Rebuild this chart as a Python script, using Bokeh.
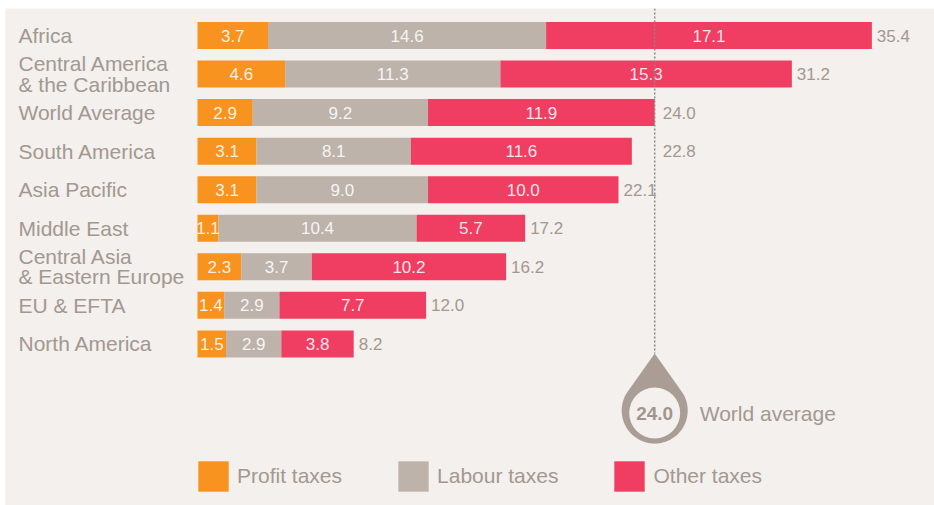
import numpy as np
from bokeh.plotting import figure
from bokeh.models import Range1d, ColumnDataSource, Legend, LegendItem
from bokeh.core.properties import value
from bokeh.embed import file_html
from bokeh.resources import INLINE

# ---- data ----
categories = ["Africa", "Central America\n& the Caribbean", "World Average",
              "South America", "Asia Pacific", "Middle East",
              "Central Asia\n& Eastern Europe", "EU & EFTA", "North America"]
profit = [3.7, 4.6, 2.9, 3.1, 3.1, 1.1, 2.3, 1.4, 1.5]
labour = [14.6, 11.3, 9.2, 8.1, 9.0, 10.4, 3.7, 2.9, 2.9]
other = [17.1, 15.3, 11.9, 11.6, 10.0, 5.7, 10.2, 7.7, 3.8]
totals = [35.4, 31.2, 24.0, 22.8, 22.1, 17.2, 16.2, 12.0, 8.2]
world_average = 24.0
series_names = ["Profit taxes", "Labour taxes", "Other taxes"]

# ---- style ----
BG = "#f3f0ed"
COLORS = ["#f7931e", "#bdb3ab", "#f03e62"]
TEXT = "#a39890"
DROP = "#a99d95"
FONT = "Liberation Sans"

PW, PH = 934, 505   # page size of the figure
BL, BT = 5, 8       # white border left / top
W, H = PW - BL, PH - BT   # frame size
XS = 19.05          # px per unit
X0 = 192            # frame px of value 0
YS = 38.55          # px per row
Y0 = 27             # frame px of first row centre

p = figure(width=PW, height=PH, output_backend="svg", toolbar_location=None,
           x_axis_type=None, y_axis_type=None,
           min_border_left=BL, min_border_top=BT, min_border_right=0, min_border_bottom=0,
           x_range=Range1d(-X0 / XS, (W - X0) / XS),
           y_range=Range1d((H - Y0) / YS, -Y0 / YS),
           background_fill_color=BG, border_fill_color="white", outline_line_color=None)
p.xgrid.visible = False
p.ygrid.visible = False

rows = list(range(len(categories)))
src = ColumnDataSource(dict(y=rows, profit=profit, labour=labour, other=other))
bars = p.hbar_stack(["profit", "labour", "other"], y="y", height=0.70,
                    color=COLORS, line_color=None, source=src)

# segment value labels
pa = np.array(profit); la = np.array(labour); oa = np.array(other)
cx = np.concatenate([pa / 2, pa + la / 2, pa + la + oa / 2])
cy = rows * 3
ct = ["%.1f" % v for v in list(profit) + list(labour) + list(other)]
p.text(x=cx, y=cy, text=ct, text_align="center", text_baseline="middle",
       text_font=value(FONT), text_font_size="17px", text_color="white", text_alpha=0.88)

# totals
tx, toff = [], []
for t in totals:
    if world_average - 1.5 < t <= world_average:
        tx.append(world_average); toff.append(8)
    else:
        tx.append(t); toff.append(5)
tsrc = ColumnDataSource(dict(x=tx, y=rows, text=["%.1f" % t for t in totals], off=toff))
p.text(x="x", y="y", text="text", x_offset="off", source=tsrc, text_align="left",
       text_baseline="middle", text_font=value(FONT), text_font_size="17px", text_color=TEXT)

# category labels
p.text(x=[-(X0 - 13) / XS] * len(categories), y=rows, text=categories,
       text_align="left", text_baseline="middle", text_font=value(FONT),
       text_font_size="21px", text_color=TEXT, text_line_height=0.88)

# world average marker (droplet)
drop_row = (402 - Y0) / YS
R_OUT, D_TIP = 33.0, 57.0
phi = np.arccos(R_OUT / D_TIP)
ang = np.linspace(phi, 2 * np.pi - phi, 80)
dx = np.concatenate([[0.0], R_OUT * np.sin(ang), [0.0]])
dy = np.concatenate([[-D_TIP], -R_OUT * np.cos(ang), [-D_TIP]])
tip_row = drop_row - D_TIP / YS
p.segment(x0=[world_average], y0=[-Y0 / YS], x1=[world_average], y1=[tip_row],
          line_color="#8c8581", line_width=1.5, line_dash="2 2")
p.patch(x=world_average + dx / XS, y=drop_row + dy / YS, fill_color=DROP, line_color=None)
p.scatter(x=[world_average], y=[drop_row + 2.5 / YS], size=51, marker="circle",
          fill_color=BG, line_color=None)
p.text(x=[world_average], y=[drop_row + 2.5 / YS], text=["%.1f" % world_average],
       text_align="center", text_baseline="middle", text_font=value(FONT),
       text_font_size="19px", text_font_style="bold", text_color="#a1968e")
p.text(x=[world_average], y=[drop_row + 2.5 / YS], text=["World average"], x_offset=45,
       text_align="left", text_baseline="middle", text_font=value(FONT),
       text_font_size="21px", text_color=TEXT)

# legend
legend = Legend(items=[LegendItem(label=n, renderers=[r]) for n, r in zip(series_names, bars)],
                orientation="horizontal", location=(189, 10), glyph_width=38, glyph_height=38,
                label_standoff=5, spacing=52, padding=0, margin=0,
                label_text_font=FONT, label_text_font_size="21px", label_text_color=TEXT,
                border_line_color=None, background_fill_alpha=0)
p.add_layout(legend)

open("out.html", "w").write(file_html(p, INLINE))
